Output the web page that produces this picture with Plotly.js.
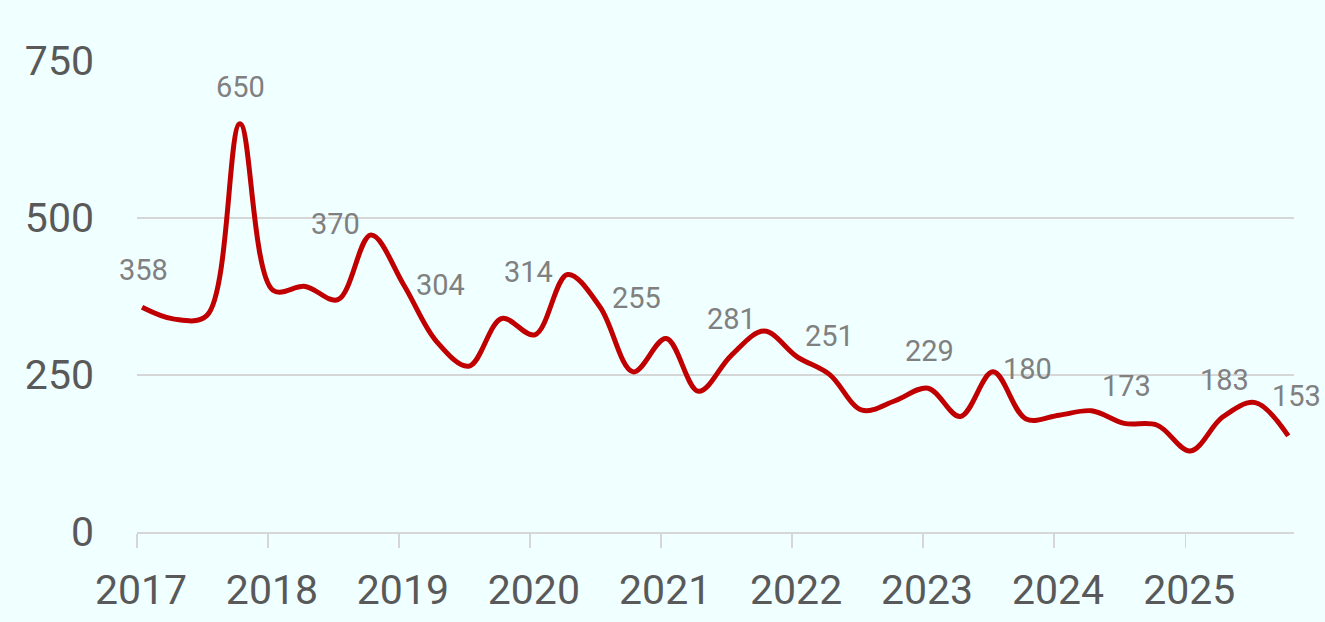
<!DOCTYPE html>
<html>
<head>
<meta charset="utf-8">
<script src="https://cdn.plot.ly/plotly-3.0.1.min.js"></script>
<style>html,body{margin:0;padding:0;background:#F0FFFF;}#chart{width:1325px;height:622px;}</style>
</head>
<body>
<div id="chart"></div>
<script>
const dates = [
  '2017-01-15','2017-04-15','2017-07-15','2017-10-15',
  '2018-01-15','2018-04-15','2018-07-15','2018-10-15',
  '2019-01-15','2019-04-15','2019-07-15','2019-10-15',
  '2020-01-15','2020-04-15','2020-07-15','2020-10-15',
  '2021-01-15','2021-04-15','2021-07-15','2021-10-15',
  '2022-01-15','2022-04-15','2022-07-15','2022-10-15',
  '2023-01-15','2023-04-15','2023-07-15','2023-10-15',
  '2024-01-15','2024-04-15','2024-07-15','2024-10-15',
  '2025-01-15','2025-04-15','2025-07-15','2025-10-15'
];
const values = [
  358, 339, 345, 650,
  385, 391, 370, 473,
  393, 304, 264, 340,
  314, 410, 358, 255,
  308, 224, 281, 320,
  279, 251, 194, 209,
  229, 184, 255, 180,
  186, 193, 173, 170,
  129, 183, 206, 153
];
const labelIndex = [0, 3, 6, 9, 12, 15, 18, 21, 24, 27, 30, 33, 35];
const yTicks = [0, 250, 500, 750];

// label placement offsets (pixels), layout only
const labelDy = [37, 37, 76, 56, 63, 74, 37, 38, 37, 50, 37, 37, 40];
const labelDx = [1, 1, -2, 4, -6, 3, 0, 0, 1, 1, 2, 2, 8];

const trace = {
  x: dates, y: values, type: 'scatter', mode: 'lines',
  line: {color: '#C00000', width: 5, shape: 'spline', smoothing: 1},
  hoverinfo: 'x+y'
};

const annotations = labelIndex.map((i, j) => ({
  x: dates[i], y: values[i], xref: 'x', yref: 'y',
  text: String(values[i]), showarrow: false,
  yshift: labelDy[j], xshift: labelDx[j],
  font: {family: 'Roboto, sans-serif', size: 29, color: '#808080'}
}));

const layout = {
  width: 1325, height: 622,
  paper_bgcolor: '#F0FFFF', plot_bgcolor: '#F0FFFF',
  margin: {l: 137, r: 31, t: 61, b: 90},
  showlegend: false,
  font: {family: 'Roboto, sans-serif', color: '#595959'},
  xaxis: {
    type: 'date', range: ['2017-01-01', '2025-10-31'],
    tickformat: '%Y', dtick: 'M12', tick0: '2017-01-01',
    showgrid: false, zeroline: false,
    showline: true, linecolor: '#d6d6d6', linewidth: 1.6,
    ticks: 'outside', ticklen: 14, tickwidth: 1.6, tickcolor: '#d6d6d6',
    ticklabelstandoff: 7, ticklabelshift: 4,
    tickfont: {family: 'Roboto, sans-serif', size: 41, color: '#595959'}
  },
  yaxis: {
    range: [0, 750], tickvals: yTicks, ticktext: yTicks.map(String),
    showgrid: true, gridcolor: '#d6d6d6', gridwidth: 1.3,
    zeroline: false, showline: false, ticks: '',
    ticklabelstandoff: 42,
    tickfont: {family: 'Roboto, sans-serif', size: 41, color: '#595959'}
  },
  annotations: annotations
};

Plotly.newPlot('chart', [trace], layout, {displayModeBar: false, staticPlot: true});
</script>
</body>
</html>
